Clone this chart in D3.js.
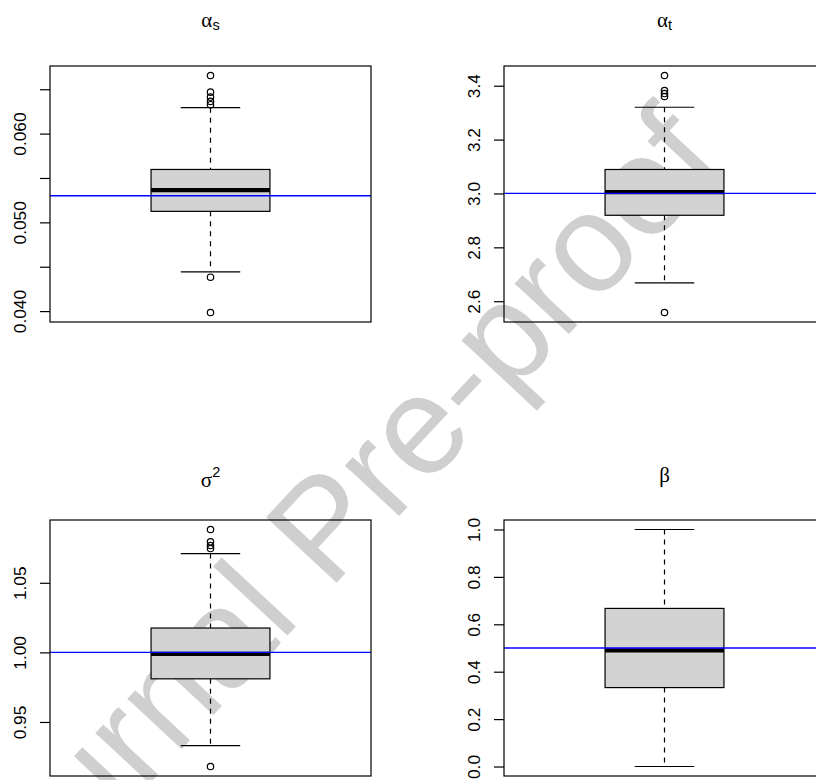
<!DOCTYPE html>
<html>
<head>
<meta charset="utf-8">
<script src="https://cdn.jsdelivr.net/npm/d3@7"></script>
<style>
  body { margin: 0; background: #fff; }
</style>
</head>
<body>
<div id="chart"></div>
<script>
// title pieces for each panel
var titleSymbols = ["α", "α", "σ", "β"];
var titleSubs    = ["s", "t", "", ""];
var titleSups    = ["", "", "2", ""];

// boxplot statistics
var lowerWhisker = [0.04442, 2.668, 0.933, 0.0];
var lowerHinge   = [0.05124, 2.919, 0.981, 0.333];
var medians      = [0.05363, 3.005, 0.999, 0.49];
var upperHinge   = [0.05596, 3.089, 1.0175, 0.667];
var upperWhisker = [0.06292, 3.320, 1.071, 1.0];
var outliers = [
    [0.06655, 0.06467, 0.06411, 0.06363, 0.06326, 0.04382, 0.03984],
    [3.438, 3.382, 3.371, 3.360, 2.558],
    [1.0883, 1.0794, 1.0768, 1.0746, 0.918],
    []
];
var trueValues = [0.053, 3.0, 1.0, 0.5];

var tickValues = [
    [0.040, 0.045, 0.050, 0.055, 0.060, 0.065],
    [2.6, 2.8, 3.0, 3.2, 3.4],
    [0.95, 1.00, 1.05],
    [0.0, 0.2, 0.4, 0.6, 0.8, 1.0]
];
var tickLabels = [
    ["0.040", "", "0.050", "", "0.060", ""],
    ["2.6", "2.8", "3.0", "3.2", "3.4"],
    ["0.95", "1.00", "1.05"],
    ["0.0", "0.2", "0.4", "0.6", "0.8", "1.0"]
];

var width = 816, height = 780;
var plotwidth = 321, plotheight = 256;
var panelLeft = [50, 504, 50, 504];
var panelTop  = [66, 66, 520, 520];
var titleBaseline = [26.5, 26.5, 487, 481.5];

var svg = d3.select("#chart")
            .append("svg")
            .attr("width", width)
            .attr("height", height);

// watermark, underneath the plots
svg.append("text")
    .attr("transform", "translate(358,560) rotate(-47)")
    .attr("text-anchor", "middle")
    .attr("font-family", "Liberation Sans, Arial, sans-serif")
    .attr("font-size", "140px")
    .attr("fill", "#cfcfcf")
    .text("Journal Pre-proof");

titleSymbols.forEach(function(sym, i) {
    var g = svg.append("g")
               .attr("transform", "translate(" + panelLeft[i] + "," + panelTop[i] + ")");

    var vals = [lowerWhisker[i], upperWhisker[i]].concat(outliers[i]);
    var ext = d3.extent(vals);
    var pad = (ext[1] - ext[0]) * 0.04;

    var x = d3.scaleLinear().domain([0.46, 1.54]).range([0, plotwidth]);
    var y = d3.scaleLinear().domain([ext[0] - pad, ext[1] + pad]).range([plotheight, 0]);

    // whiskers
    g.append("line")
        .attr("x1", x(1)).attr("x2", x(1))
        .attr("y1", y(upperWhisker[i])).attr("y2", y(upperHinge[i]))
        .attr("stroke", "black").attr("stroke-width", 1.2)
        .attr("stroke-dasharray", "5,5");
    g.append("line")
        .attr("x1", x(1)).attr("x2", x(1))
        .attr("y1", y(lowerHinge[i])).attr("y2", y(lowerWhisker[i]))
        .attr("stroke", "black").attr("stroke-width", 1.2)
        .attr("stroke-dasharray", "5,5");
    [lowerWhisker[i], upperWhisker[i]].forEach(function(v) {
        g.append("line")
            .attr("x1", x(0.9)).attr("x2", x(1.1))
            .attr("y1", y(v)).attr("y2", y(v))
            .attr("stroke", "black").attr("stroke-width", 1.2);
    });

    // box
    g.append("rect")
        .attr("x", x(0.8))
        .attr("y", y(upperHinge[i]))
        .attr("width", x(1.2) - x(0.8))
        .attr("height", y(lowerHinge[i]) - y(upperHinge[i]))
        .attr("fill", "#d3d3d3")
        .attr("stroke", "black")
        .attr("stroke-width", 1.2);
    g.append("line")
        .attr("x1", x(0.8)).attr("x2", x(1.2))
        .attr("y1", y(medians[i])).attr("y2", y(medians[i]))
        .attr("stroke", "black").attr("stroke-width", 4.2);

    // outliers
    g.selectAll(".out")
        .data(outliers[i])
        .enter()
        .append("circle")
        .attr("class", "out")
        .attr("cx", x(1))
        .attr("cy", function(d) { return y(d); })
        .attr("r", 3.2)
        .attr("fill", "none")
        .attr("stroke", "black")
        .attr("stroke-width", 1.2);

    // true value
    g.append("line")
        .attr("x1", 0).attr("x2", plotwidth)
        .attr("y1", y(trueValues[i])).attr("y2", y(trueValues[i]))
        .attr("stroke", "#0000ff").attr("stroke-width", 1.3);

    // frame
    g.append("rect")
        .attr("width", plotwidth)
        .attr("height", plotheight)
        .attr("fill", "none")
        .attr("stroke", "black")
        .attr("stroke-width", 1.2);

    // y axis
    var ax = g.append("g")
        .call(d3.axisLeft(y)
                .tickValues(tickValues[i])
                .tickSize(10)
                .tickFormat(function(d, k) { return tickLabels[i][k]; }));
    ax.select(".domain").remove();
    ax.selectAll("line").attr("stroke-width", 1.2);
    ax.selectAll("text")
        .attr("transform", "rotate(-90)")
        .attr("x", 0)
        .attr("y", -24.3)
        .attr("dy", "0")
        .attr("text-anchor", "middle")
        .attr("font-family", "Liberation Sans, Arial, sans-serif")
        .attr("font-size", "17.3px")
        .attr("fill", "black");

    // title
    var t = svg.append("text")
        .attr("x", panelLeft[i] + plotwidth / 2)
        .attr("y", titleBaseline[i])
        .attr("text-anchor", "middle")
        .attr("font-size", "21px")
        .attr("fill", "black");
    t.append("tspan")
        .attr("font-family", "Liberation Serif, Times New Roman, serif")
        .text(sym);
    if (titleSubs[i]) {
        t.append("tspan")
            .attr("font-family", "Liberation Sans, Arial, sans-serif")
            .attr("font-size", "14.5px")
            .attr("dy", 3)
            .text(titleSubs[i]);
    }
    if (titleSups[i]) {
        t.append("tspan")
            .attr("font-family", "Liberation Sans, Arial, sans-serif")
            .attr("font-size", "14.5px")
            .attr("dy", -10)
            .text(titleSups[i]);
    }
});
</script>
</body>
</html>
